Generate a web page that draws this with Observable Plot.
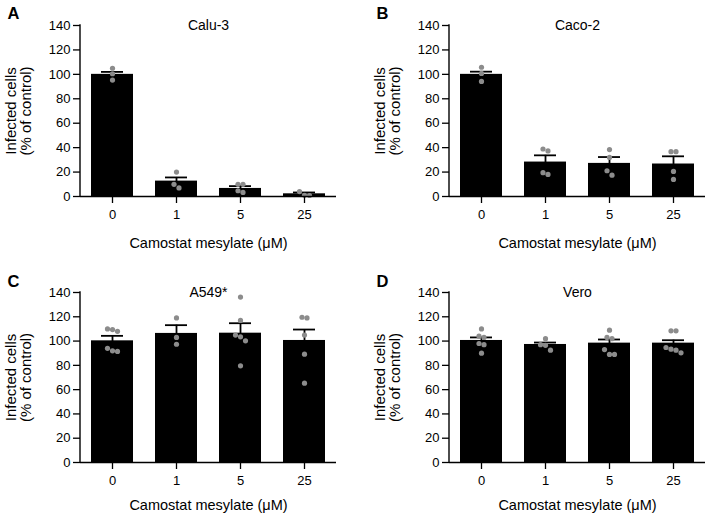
<!DOCTYPE html>
<html><head><meta charset="utf-8">
<script src="https://cdn.jsdelivr.net/npm/d3@7"></script>
<script src="https://cdn.jsdelivr.net/npm/@observablehq/plot@0.6"></script>
<style>
body{margin:0;background:#fff;}
#wrap{position:relative;width:709px;height:520px;font-family:"Liberation Sans",Arial,Helvetica,sans-serif;color:#000;}
.panel{position:absolute;}
.panel svg{overflow:visible;}
</style></head><body><div id="wrap"></div>
<script>
// ---- data ----
const doses = ["0", "1", "5", "25"];
const yTicks = [0, 20, 40, 60, 80, 100, 120, 140];
const panelLetters = ["A", "B", "C", "D"];
const cellLines = ["Calu-3", "Caco-2", "A549*", "Vero"];
const xTitle = "Camostat mesylate (μM)";
const yTitle = "Infected cells\n(% of control)";

const meansCalu3 = [100, 12.6, 6.6, 2.2];
const semCalu3 = [2, 3, 1.9, 1.1];
const pointsCalu3 = [[105, 100.5, 95.3], [20, 10, 7], [10, 10, 4.7, 3.3], [4, 1, 0.8]];

const meansCaco2 = [100, 28.2, 27.1, 26.6];
const semCaco2 = [2.2, 5.5, 5.2, 6.3];
const pointsCaco2 = [[105.8, 100.8, 94.2], [38.9, 37.3, 19.5, 18.1], [38.4, 32, 21.1, 17.5], [36.7, 36.7, 20.5, 14]];

const meansA549 = [100.2, 106.3, 106.5, 100.5];
const semA549 = [4.1, 6.8, 8.2, 9];
const pointsA549 = [[110, 109.5, 108, 94, 92, 91.5], [119.1, 103, 97.4], [136.2, 117, 104.9, 103.5, 100.2, 79.6], [119.6, 119.1, 104.9, 89.2, 65.3]];

const meansVero = [100.5, 97.2, 98.3, 98.3];
const semVero = [2.5, 1.6, 3, 2.4];
const pointsVero = [[110, 104, 103, 98, 97, 90], [102, 97, 96.5, 92.5], [109, 103, 102, 93, 89, 89], [108.4, 108.4, 94.7, 93.3, 92.5, 90.3]];

const panelMeans = [meansCalu3, meansCaco2, meansA549, meansVero];
const panelSem = [semCalu3, semCaco2, semA549, semVero];
const panelPoints = [pointsCalu3, pointsCaco2, pointsA549, pointsVero];

// ---- layout ----
const layout = [
  {left: 0, top: 0, width: 354, ml: 80, mr: 18, mt: 25, mb: 64, xt: 47},
  {left: 354, top: 0, width: 355, ml: 95, mr: 4, mt: 25, mb: 64, xt: 47},
  {left: 0, top: 260, width: 354, ml: 80, mr: 18, mt: 32, mb: 58, xt: 43},
  {left: 354, top: 260, width: 355, ml: 95, mr: 4, mt: 32, mb: 58, xt: 43}
];

function jitter(vals) {
  const sorted = vals.map(v => v).sort((a, b) => b - a);
  const out = [];
  let cluster = [];
  const flush = () => {
    cluster.forEach((v, k) => out.push({value: v, off: (k - (cluster.length - 1) / 2) * 5}));
    cluster = [];
  };
  for (const v of sorted) {
    if (cluster.length && cluster[cluster.length - 1] - v > 4) flush();
    cluster.push(v);
  }
  flush();
  return out;
}

const wrap = document.getElementById("wrap");
const font = '"Liberation Sans",Arial,Helvetica,sans-serif';

panelLetters.forEach((letter, p) => {
  const L = layout[p];
  const bars = doses.map((d, i) => ({dose: d, mean: panelMeans[p][i], sem: panelSem[p][i]}));
  const dots = [];
  doses.forEach((d, i) => jitter(panelPoints[p][i]).forEach(o => dots.push({dose: d, value: o.value, off: o.off})));
  const offs = Array.from(new Set(dots.map(d => d.off)));
  const leftLine = (index, scales, values, dim) => {
    const l = document.createElementNS("http://www.w3.org/2000/svg", "line");
    l.setAttribute("x1", dim.marginLeft); l.setAttribute("x2", dim.marginLeft);
    l.setAttribute("y1", dim.marginTop - 0.7); l.setAttribute("y2", dim.height - dim.marginBottom + 0.7);
    l.setAttribute("stroke", "#000"); l.setAttribute("stroke-width", 1.4);
    return l;
  };
  const chart = Plot.plot({
    width: L.width, height: 260,
    marginLeft: L.ml, marginRight: L.mr, marginTop: L.mt, marginBottom: L.mb,
    style: {fontFamily: font, fontSize: "13px", background: "transparent", color: "#000"},
    x: {type: "band", domain: doses, paddingInner: 0.34, paddingOuter: 0.17},
    y: {domain: [0, 140]},
    marks: [
      Plot.barY(bars, {x: "dose", y: "mean", fill: "#000"}),
      Plot.ruleX(bars, {x: "dose", y1: d => d.mean - d.sem, y2: d => d.mean + d.sem, stroke: "#000", strokeWidth: 1.8}),
      Plot.tickY(bars, {x: "dose", y: d => d.mean + d.sem, stroke: "#000", strokeWidth: 1.8, insetLeft: 10, insetRight: 10}),
      ...offs.map(o => Plot.dot(dots.filter(d => d.off === o), {x: "dose", y: "value", dx: o, r: 2.6, fill: "#8c8c8c", stroke: "none"})),
      Plot.ruleY([0], {stroke: "#000", strokeWidth: 1.4}),
      leftLine,
      Plot.axisY({ticks: yTicks, tickSize: 7, tickPadding: 3, strokeWidth: 1.3, fontSize: 13, label: null}),
      Plot.axisX({tickSize: 7, tickPadding: 6, strokeWidth: 1.3, fontSize: 13, label: null}),
      Plot.text([cellLines[p]], {frameAnchor: "top", lineAnchor: "middle", fontSize: 14}),
      Plot.text([xTitle], {frameAnchor: "bottom", lineAnchor: "middle", dy: L.xt, fontSize: 14.5}),
      Plot.text([yTitle], {frameAnchor: "left", rotate: -90, dx: -62, lineAnchor: "middle", textAnchor: "middle", lineHeight: 1.02, fontSize: 15}),
      Plot.text([letter], {frameAnchor: "top-left", textAnchor: "start", lineAnchor: "top", dx: 7 + (p % 2) * 15 - L.ml, dy: (p < 2 ? 7 : 275 - 260) - L.mt, fontSize: 16.5, fontWeight: "bold"})
    ]
  });
  const div = document.createElement("div");
  div.className = "panel";
  div.style.left = L.left + "px";
  div.style.top = L.top + "px";
  div.appendChild(chart);
  wrap.appendChild(div);
});
</script>
</body></html>
